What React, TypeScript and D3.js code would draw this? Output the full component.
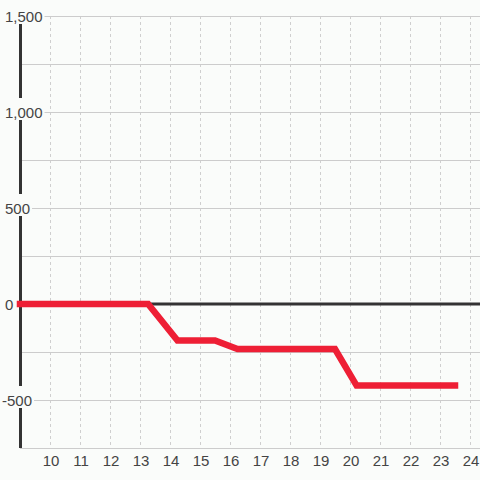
import React, { useEffect, useRef } from "react";
import * as d3 from "d3";

const hours: number[] = [9, 13.27, 14.25, 15.5, 16.25, 19.5, 20.22, 23.5];
const values: number[] = [0, 0, -190, -190, -235, -235, -425, -425];
const xTicks: number[] = [10, 11, 12, 13, 14, 15, 16, 17, 18, 19, 20, 21, 22, 23, 24];
const yLabelTicks: number[] = [1500, 1000, 500, 0, -500];
const yGridTicks: number[] = [1500, 1250, 1000, 750, 500, 250, 0, -250, -500, -750];

const W = 480;
const H = 480;
const BG = "#fafcfa";

export default function App() {
  const ref = useRef<SVGSVGElement | null>(null);

  useEffect(() => {
    const svg = d3.select(ref.current);
    svg.selectAll("*").remove();

    const x = d3.scaleLinear().domain([9, 9 + 460 / 30]).range([20, 480]);
    const y = d3.scaleLinear().domain([-750, 1500]).range([448, 16]);
    const fmt = d3.format(",");

    svg.append("rect").attr("width", W).attr("height", H).attr("fill", BG);

    // vertical dotted grid
    svg.append("g")
      .selectAll("line")
      .data(xTicks)
      .join("line")
      .attr("x1", (d) => Math.round(x(d)) + 0.5)
      .attr("x2", (d) => Math.round(x(d)) + 0.5)
      .attr("y1", y(1500))
      .attr("y2", y(-750))
      .attr("stroke", "#cfcfcf")
      .attr("stroke-width", 1)
      .attr("stroke-dasharray", "3,3");

    // horizontal grid
    svg.append("g")
      .selectAll("line")
      .data(yGridTicks)
      .join("line")
      .attr("x1", x(9))
      .attr("x2", W)
      .attr("y1", (d) => Math.round(y(d)) + 0.5)
      .attr("y2", (d) => Math.round(y(d)) + 0.5)
      .attr("stroke", "#cccccc")
      .attr("stroke-width", 1);

    // left axis line
    svg.append("line")
      .attr("x1", x(9) + 0.5)
      .attr("x2", x(9) + 0.5)
      .attr("y1", y(1500))
      .attr("y2", y(-750))
      .attr("stroke", "#333333")
      .attr("stroke-width", 3);

    // zero line
    svg.append("line")
      .attr("x1", x(9))
      .attr("x2", W)
      .attr("y1", y(0))
      .attr("y2", y(0))
      .attr("stroke", "#333333")
      .attr("stroke-width", 3);

    // y labels with background
    const yl = svg.append("g");
    yLabelTicks.forEach((v) => {
      const g = yl.append("g");
      const rect = g.append("rect").attr("fill", BG);
      const t = g.append("text")
        .attr("x", v < 0 ? 2 : 5)
        .attr("y", y(v) + 6)
        .attr("font-family", "'Liberation Sans', Arial, sans-serif")
        .attr("font-size", 15)
        .attr("fill", "#444444")
        .text(fmt(v).replace("−", "-"));
      const bb = (t.node() as SVGTextElement).getBBox();
      rect.attr("x", 0)
        .attr("y", y(v) - 14)
        .attr("width", bb.x + bb.width + 2)
        .attr("height", 22);
    });

    // red line
    const pts = hours.map((h, i) => [h, values[i]] as [number, number]);
    const line = d3.line<[number, number]>().x((d) => x(d[0])).y((d) => y(d[1]));
    svg.append("path")
      .attr("d", line(pts) || "")
      .attr("fill", "none")
      .attr("stroke", "#ee1f35")
      .attr("stroke-width", 6.5)
      .attr("stroke-linecap", "square")
      .attr("stroke-linejoin", "miter");

    // x labels
    svg.append("g")
      .selectAll("text")
      .data(xTicks)
      .join("text")
      .attr("x", (d) => x(d) + 1)
      .attr("y", 466)
      .attr("text-anchor", "middle")
      .attr("font-family", "'Liberation Sans', Arial, sans-serif")
      .attr("font-size", 15)
      .attr("fill", "#444444")
      .text((d) => String(d));
  }, []);

  return (
    <svg
      ref={ref}
      width={W}
      height={H}
      style={{ position: "absolute", left: 0, top: 0, display: "block" }}
    />
  );
}
